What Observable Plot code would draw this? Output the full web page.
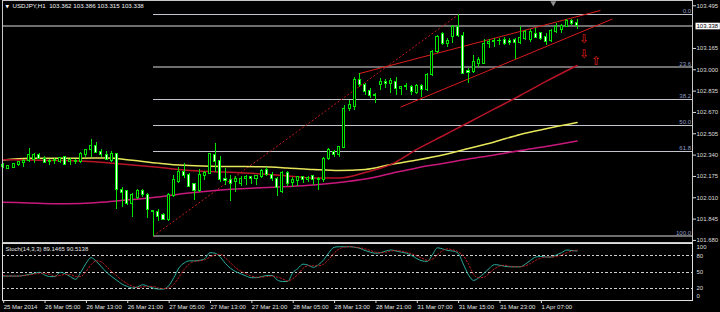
<!DOCTYPE html>
<html><head><meta charset="utf-8">
<script src="https://cdn.jsdelivr.net/npm/d3@7"></script>
<script src="https://cdn.jsdelivr.net/npm/@observablehq/plot@0.6"></script>
<style>
html,body{margin:0;padding:0;background:#000;}
#chart{width:720px;height:312px;overflow:hidden;background:#000}
#chart svg{display:block}
</style></head><body><div id="chart"></div>
<script>
// ---------- data ----------
const symbolText = "USDJPY,H1  103.362 103.386 103.315 103.338";
const stochText = "Stoch(14,3,3) 89.1465 90.5138";

const opens = [102.262,102.236,102.242,102.265,102.278,102.298,102.305,102.342,102.311,102.285,
102.291,102.285,102.324,102.285,102.293,102.285,102.337,102.376,102.412,102.363,
102.337,102.298,102.350,102.071,102.059,101.958,102.010,102.061,102.035,101.906,
101.899,101.873,101.839,102.020,102.131,102.208,102.187,102.113,102.061,102.182,
102.195,102.337,102.293,102.156,102.151,102.131,102.113,102.156,102.169,102.156,
102.169,102.221,102.190,102.156,102.053,102.200,102.123,102.138,102.169,102.149,
102.175,102.144,102.144,102.311,102.363,102.338,102.397,102.699,102.711,102.923,
102.879,102.835,102.794,102.879,102.905,102.887,102.905,102.853,102.866,102.866,
102.820,102.871,102.840,102.956,103.137,103.278,103.201,103.252,103.330,103.258,
102.989,102.982,103.046,103.046,103.196,103.214,103.221,103.232,103.221,103.232,
103.206,103.239,103.232,103.278,103.283,103.252,103.221,103.291,103.309,103.330,
103.381,103.362];
const highs = [102.273,102.260,102.278,102.293,102.303,102.389,102.350,102.350,102.329,102.303,
102.311,102.324,102.329,102.311,102.303,102.363,102.381,102.458,102.440,102.381,
102.370,102.370,102.355,102.087,102.066,102.040,102.077,102.077,102.040,101.912,
101.917,101.886,102.040,102.182,102.247,102.278,102.195,102.123,102.226,102.216,
102.355,102.427,102.329,102.234,102.182,102.175,102.175,102.182,102.175,102.182,
102.226,102.242,102.208,102.169,102.216,102.216,102.169,102.175,102.175,102.175,
102.182,102.169,102.324,102.389,102.376,102.407,102.724,102.763,102.943,102.969,
102.897,102.853,102.814,102.930,102.923,102.930,102.938,102.871,102.897,102.879,
102.887,102.887,102.969,103.150,103.265,103.291,103.239,103.343,103.425,103.291,
103.007,103.111,103.093,103.232,103.232,103.239,103.239,103.252,103.239,103.239,
103.335,103.304,103.309,103.317,103.291,103.278,103.309,103.356,103.351,103.386,
103.386,103.386];
const lows = [102.234,102.229,102.237,102.252,102.247,102.285,102.273,102.305,102.273,102.260,
102.267,102.273,102.260,102.260,102.267,102.278,102.324,102.324,102.350,102.324,
102.298,102.285,101.917,101.937,101.950,101.860,101.994,102.015,101.847,101.713,
101.829,101.834,101.827,102.010,102.123,102.156,102.087,101.989,102.053,102.144,
102.190,102.208,102.131,102.105,101.984,102.053,102.097,102.105,102.113,102.105,
102.156,102.175,102.138,102.020,102.046,102.097,102.087,102.097,102.123,102.131,
102.105,102.066,102.131,102.298,102.325,102.325,102.389,102.680,102.686,102.866,
102.802,102.776,102.737,102.840,102.853,102.815,102.802,102.802,102.840,102.802,
102.809,102.789,102.835,102.949,103.129,103.188,103.175,103.201,103.247,102.964,
102.891,102.969,103.015,103.041,103.162,103.175,103.188,103.188,103.188,103.077,
103.196,103.227,103.214,103.239,103.227,103.188,103.214,103.278,103.283,103.325,
103.343,103.315];
const closes = [102.245,102.252,102.273,102.285,102.298,102.337,102.340,102.311,102.278,102.296,
102.303,102.316,102.267,102.303,102.283,102.350,102.376,102.407,102.355,102.337,
102.303,102.345,102.071,102.046,101.958,102.028,102.066,102.028,101.912,101.899,
101.865,101.839,102.028,102.144,102.208,102.182,102.097,102.059,102.190,102.200,
102.345,102.285,102.144,102.138,102.118,102.156,102.156,102.169,102.156,102.175,
102.216,102.190,102.156,102.087,102.203,102.118,102.149,102.169,102.149,102.164,
102.144,102.156,102.311,102.376,102.338,102.402,102.699,102.724,102.918,102.879,
102.827,102.794,102.802,102.905,102.892,102.912,102.853,102.866,102.871,102.827,
102.871,102.845,102.956,103.137,103.250,103.201,103.226,103.330,103.258,102.969,
102.974,103.059,103.077,103.196,103.214,103.221,103.226,103.201,103.206,103.206,
103.247,103.291,103.291,103.247,103.239,103.214,103.299,103.330,103.335,103.381,
103.356,103.338];

// moving averages, read at sampled bars
const maBars  = [0,5,10,15,20,25,30,35,40,45,50,55,60,65,70,75,80,85,90,95,100,105,111];
const sma50   = [102.304,102.302,102.299,102.295,102.281,102.264,102.246,102.225,102.213,102.206,102.194,102.179,102.163,102.163,102.206,102.268,102.384,102.488,102.592,102.697,102.801,102.910,103.033];
const sma100  = [102.302,102.316,102.316,102.316,102.318,102.300,102.278,102.261,102.254,102.252,102.250,102.241,102.229,102.221,102.229,102.268,102.302,102.341,102.391,102.442,102.500,102.544,102.592];
const sma200  = [101.976,101.970,101.964,101.966,101.978,101.997,102.016,102.043,102.063,102.077,102.088,102.097,102.109,102.128,102.155,102.198,102.241,102.275,102.310,102.341,102.376,102.407,102.449];

// stochastic %K and %D
const stochK = [43,43,43,43,44,46,48,50,45,42,42,50,47,42,37,50,66,77,70,60,
50,42,35,28,24,21,23,27,24,21,19,19,25,40,58,67,71,71,72,75,
86,85,78,66,57,51,47,43,40,40,42,44,44,36,33,33,49,57,65,63,
59,64,73,86,96,97,97,97,96,94,90,87,85,86,89,91,89,87,85,81,
75,71,70,82,95,93,90,89,85,65,45,35,40,48,57,64,63,61,60,60,
60,65,72,78,79,78,78,82,86,91,90,89.1465];
const stochD = [44,43,43,43,44,45,47,48,48,46,43,44,46,46,42,42,51,64,71,69,
60,51,43,35,29,24,22,23,24,24,21,20,21,28,41,55,65,70,71,73,
78,82,83,76,67,58,52,47,43,41,41,42,43,41,38,34,38,46,57,62,
62,62,65,74,85,93,96,97,96,95,93,90,87,86,87,89,90,89,87,84,
80,76,72,74,82,90,93,91,88,80,65,46,40,41,48,56,61,63,61,60,
60,62,66,72,76,78,78,79,82,86,89,90.5138];

// axes
const priceTicks = [103.495,103.165,103.000,102.835,102.670,102.505,102.340,102.175,102.010,101.845,101.680];
const timeTickBars = [0,8,16,24,32,40,48,56,64,72,80,88,96,104];
const timeTickLabels = ["25 Mar 2014","26 Mar 05:00","26 Mar 13:00","26 Mar 21:00","27 Mar 05:00","27 Mar 13:00","27 Mar 21:00","28 Mar 05:00","28 Mar 13:00","28 Mar 21:00","31 Mar 07:00","31 Mar 15:00","31 Mar 23:00","1 Apr 07:00"];
const stochLevels = [20,50,80];

// drawn objects
const fibLowBar = 29, fibLow = 101.713, fibHighBar = 88, fibHigh = 103.425;
const fibPcts = [0, 23.6, 38.2, 50.0, 61.8, 100.0];
const fibLabels = ["0.0","23.6","38.2","50.0","61.8","100.0"];
const channelLines = [
  {b1: 68.72, p1: 102.969, b2: 115.53, p2: 103.459},
  {b1: 76.85, p1: 102.711, b2: 117.85, p2: 103.393}
];
const arrowBars   = [112.4, 112.4, 114.7];
const arrowPrices = [103.236, 103.124, 103.070];
const arrowGlyphs = ["\u21E9", "\u21E9", "\u21E7"];
const shiftMarkerBar = 106.4;

// ---------- build tables ----------
const bars = opens.map((o, i) => ({i, o, h: highs[i], l: lows[i], c: closes[i]}));
const maRows = maBars.map((b, k) => ({b, s50: sma50[k], s100: sma100[k], s200: sma200[k]}));
const stochRows = stochK.map((k, i) => ({i, k, d: stochD[i]}));
const fibRows = fibPcts.map((p, k) => ({price: fibHigh - (fibHigh - fibLow) * p / 100, label: fibLabels[k], pct: p}));
const arrows = arrowBars.map((b, k) => ({b, p: arrowPrices[k], g: arrowGlyphs[k]}));
const lastClose = closes[closes.length - 1];
const tickLabelMap = new Map(timeTickBars.map((b, k) => [b, timeTickLabels[k]]));

const xDomain = [-0.1354, 133.327];
const GREEN = "#00e400";
const font = "'Liberation Sans', Arial, sans-serif";

const main = Plot.plot({
  width: 720, height: 243,
  marginLeft: 2, marginRight: 28, marginTop: 0, marginBottom: 1,
  style: {background: "#000", color: "#dcdcdc", fontFamily: font, fontSize: "6px", overflow: "visible"},
  x: {domain: xDomain, axis: null},
  y: {domain: [101.664, 103.536]},
  marks: [
    Plot.ruleY([lastClose], {stroke: "#6e6e6e", strokeWidth: 1.6, shapeRendering: "crispEdges"}),
    Plot.ruleY(fibRows, {y: "price", x1: fibLowBar, x2: xDomain[1],
      stroke: d => (d.pct === 23.6 || d.pct === 100) ? "#6e6e6e" : "#c4c4cc",
      strokeWidth: d => (d.pct === 23.6 || d.pct === 100) ? 1.6 : 1, shapeRendering: "crispEdges"}),
    Plot.text(fibRows, {y: "price", text: "label", frameAnchor: "right", textAnchor: "end", lineAnchor: "bottom", dx: -1.5, dy: -1.5, fill: "#8f9cc4"}),
    Plot.link([0], {x1: fibLowBar, y1: fibLow, x2: fibHighBar, y2: fibHigh, stroke: "#c41a1a", strokeDasharray: "2,2"}),
    Plot.line(maRows, {x: "b", y: "s200", stroke: "#c8187c", curve: "monotone-x"}),
    Plot.line(maRows, {x: "b", y: "s100", stroke: "#e6e65a", curve: "monotone-x"}),
    Plot.line(maRows, {x: "b", y: "s50", stroke: "#b81428", curve: "monotone-x"}),
    Plot.link(channelLines, {x1: "b1", y1: "p1", x2: "b2", y2: "p2", stroke: "#d81c1c"}),
    Plot.ruleX(bars, {x: "i", y1: "l", y2: "h", stroke: GREEN, shapeRendering: "crispEdges"}),
    Plot.rect(bars, {x1: d => d.i - 0.2, x2: d => d.i + 0.2,
      y1: d => Math.min(d.o, d.c), y2: d => Math.max(d.o, d.c),
      fill: d => d.c >= d.o ? "#000" : "#ffffff", stroke: GREEN, shapeRendering: "crispEdges"}),
    Plot.text(arrows, {x: "b", y: "p", text: "g", fill: "#e41e1e", fontSize: 12, fontFamily: "DejaVu Sans"}),
    Plot.dot([shiftMarkerBar], {x: d => d, frameAnchor: "top", symbol: "triangle", r: 2.2, rotate: 180, fill: "#8c8c8c", dy: 2.5}),
    Plot.text(["\u25BC"], {frameAnchor: "top-left", dx: 3, dy: 4.5, lineAnchor: "top", textAnchor: "start", fill: "#fff", fontSize: 4.5, fontFamily: "DejaVu Sans"}),
    Plot.text([symbolText], {frameAnchor: "top-left", dx: 10, dy: 3.2, lineAnchor: "top", textAnchor: "start", fill: "#f2f2f2", fontSize: 6.2}),
    Plot.frame({stroke: "#c8c8c8"}),
    Plot.axisY({anchor: "right", ticks: priceTicks, tickFormat: d => d.toFixed(3), tickSize: 3, tickPadding: 1, stroke: "#dcdcdc", fill: "#dcdcdc", label: null}),
    Plot.text([lastClose], {y: d => d, text: d => d.toFixed(3), frameAnchor: "right", dx: 4, textAnchor: "start", fill: "#000"})
  ]
});

const stoch = Plot.plot({
  width: 720, height: 69,
  marginLeft: 2, marginRight: 28, marginTop: 0, marginBottom: 12,
  style: {background: "#000", color: "#dcdcdc", fontFamily: font, fontSize: "6px", overflow: "visible"},
  x: {domain: xDomain},
  y: {domain: [0, 100], range: [55.9, 1.6], axis: null},
  marks: [
    Plot.ruleY(stochLevels, {stroke: "#d0d0d0", strokeDasharray: "2.5,2", shapeRendering: "crispEdges"}),
    Plot.line(stochRows, {x: "i", y: "k", stroke: "#2aae9e", strokeWidth: 1, curve: "monotone-x"}),
    Plot.line(stochRows, {x: "i", y: "d", stroke: "#c81e1e", strokeWidth: 1, strokeDasharray: "1.5,2", curve: "monotone-x"}),
    Plot.frame({stroke: "#e0e0e0"}),
    Plot.text(stochLevels, {y: d => d, text: d => String(d), frameAnchor: "right", dx: 4, textAnchor: "start", fill: "#dcdcdc"}),
    Plot.text([100], {y: d => d, text: d => String(d), frameAnchor: "right", dx: 4, dy: 2.4, textAnchor: "start", fill: "#dcdcdc"}),
    Plot.text([0], {y: d => d, text: d => String(d), frameAnchor: "right", dx: 4, dy: -3.4, textAnchor: "start", fill: "#dcdcdc"}),
    Plot.text([stochText], {frameAnchor: "top-left", dx: 3, dy: 3.6, lineAnchor: "top", textAnchor: "start", fill: "#e6e6e6", fontSize: 6}),
    Plot.axisX({ticks: timeTickBars, tickFormat: d => tickLabelMap.get(d), tickSize: 3, tickPadding: 1.5, textAnchor: "start", dx: 0.5, stroke: "#dcdcdc", fill: "#e6e6e6", label: null})
  ]
});

const root = document.getElementById("chart");
root.append(main, stoch);

// white box behind the current-price tag
const tag = lastClose.toFixed(3);
d3.select(main).selectAll("text").filter(function () {
  return this.textContent === tag;
}).each(function () {
  const b = this.getBBox();
  const r = d3.select(this.parentNode).insert("rect", () => this)
    .attr("x", b.x - 1).attr("y", b.y - 0.3)
    .attr("width", b.width + 2).attr("height", b.height + 0.6)
    .attr("fill", "#ffffff");
  const t = this.getAttribute("transform");
  if (t) r.attr("transform", t);
  d3.select(this).attr("fill", "#000");
});
</script>
</body></html>
